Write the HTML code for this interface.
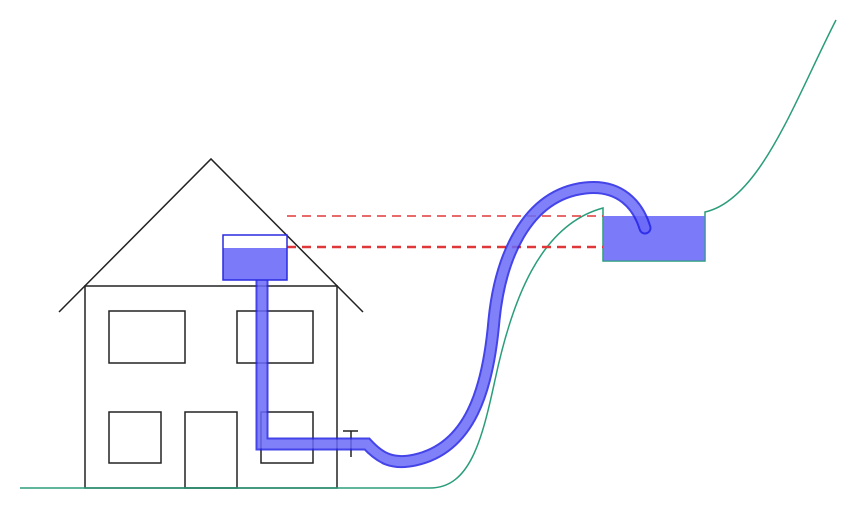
<!DOCTYPE html>
<html><head><style>body{margin:0;background:#fff}svg{display:block}</style></head>
<body>
<svg width="858" height="512" viewBox="0 0 858 512" xmlns="http://www.w3.org/2000/svg">
<rect width="858" height="512" fill="#fff"/>
<g fill="none" stroke="#222" stroke-width="1.5">
<polyline points="59,312 211,159 363,312"/>
<rect x="85" y="286" width="252" height="202"/>
<rect x="109" y="311" width="76" height="52"/>
<rect x="237" y="311" width="76" height="52"/>
<rect x="109" y="412" width="52" height="51"/>
<rect x="185" y="412" width="52" height="76"/>
<rect x="261" y="412" width="52" height="51"/>
</g>
<g stroke="#222" stroke-width="1.5"><line x1="343" y1="431" x2="358" y2="431"/><line x1="351" y1="431" x2="351" y2="457"/></g>
<path d="M20,488 H430 C470,488 482,440 495,380 C512,300 540,225 603,208 V261 H705 V212 C760,200 795,100 836,20" fill="none" stroke="#2a9d7a" stroke-width="1.5"/>
<rect x="603.5" y="216" width="101" height="44.5" fill="#7b7bfa"/>
<line x1="287" y1="216" x2="603" y2="216" stroke="#e03838" stroke-width="1.5" stroke-dasharray="9,6"/>
<line x1="287" y1="247" x2="603" y2="247" stroke="#e03838" stroke-width="2.5" stroke-dasharray="9,6"/>
<g opacity="0.85">
<path d="M262,280 V444 H367 C380,458 392,465 415,460 C470,448 488,390 494,320 C500,260 525,195 585,188 C620,184 638,205 645,228" fill="none" stroke="#2424e6" stroke-width="13" stroke-linecap="round"/>
<path d="M262,281 V444 H367 C380,458 392,465 415,460 C470,448 488,390 494,320 C500,260 525,195 585,188 C620,184 638,205 645,228" fill="none" stroke="#6a6af8" stroke-width="9" stroke-linecap="round"/>
</g>
<rect x="223" y="248" width="64" height="32" fill="#7b7bfa"/>
<rect x="223" y="235" width="64" height="45" fill="none" stroke="#2a2ae0" stroke-width="1.5"/>
</svg>
</body></html>
